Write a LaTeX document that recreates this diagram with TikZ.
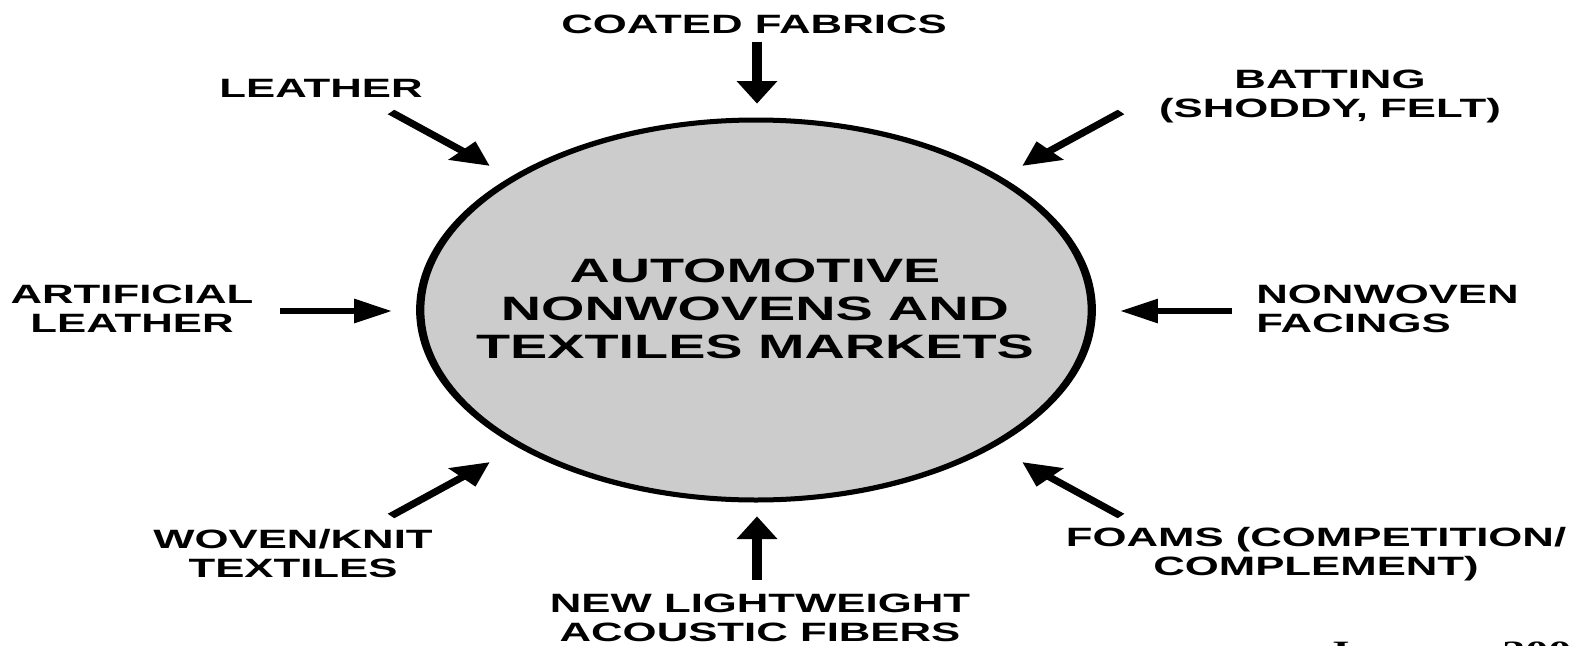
\documentclass[tikz,border=0pt]{standalone}
\usepackage{fontspec}
\setmainfont{Liberation Sans}
\newfontfamily\datefont{Liberation Serif}
\usetikzlibrary{arrows.meta,shapes.geometric}
\definecolor{ellgray}{HTML}{CCCCCC}
\tikzset{
  lbl/.style={font=\bfseries\fontsize{26.5}{29}\selectfont, align=center, inner sep=0pt},
  centerlbl/.style={font=\bfseries\fontsize{33.8}{38}\selectfont, align=center, inner sep=0pt},
  feed/.style={line width=6pt, -{Triangle[length=23pt,width=23pt]}},
}
\begin{document}
\begin{tikzpicture}
\useasboundingbox (0pt,0pt) rectangle (1571pt,-645pt);
\begin{scope}[transform canvas={xscale=1.65}, x={(0.606061pt,0pt)}, y={(0pt,-1pt)}]
  \node[ellipse, draw, line width=5pt, fill=ellgray, minimum width=407pt, minimum height=380pt, inner sep=0pt] (market) at (756,310) {};
  \node[centerlbl] (mtext) at (755,309) {AUTOMOTIVE\\NONWOVENS AND\\TEXTILES MARKETS};

  \node[lbl] (coated) at (754,24) {COATED FABRICS};
  \node[lbl] (leather) at (321,88) {LEATHER};
  \node[lbl] (batting) at (1330,96) {BATTING\\(SHODDY, FELT)};
  \node[lbl] (artif) at (132,309) {ARTIFICIAL\\LEATHER};
  \node[lbl, align=left, anchor=west] (nonwoven) at (1256,309) {NONWOVEN\\FACINGS};
  \node[lbl] (woven) at (293,554) {WOVEN/KNIT\\TEXTILES};
  \node[lbl] (newfib) at (760,618) {NEW LIGHTWEIGHT\\ACOUSTIC FIBERS};
  \node[lbl] (foams) at (1316,554) {FOAMS (COMPETITION/\\COMPLEMENT)};
  \node[font=\datefont\bfseries\fontsize{28}{30}\selectfont, anchor=base west, inner sep=0pt] (date) at (1326,660) {January 2005};

  \coordinate (s1) at (757,42);   \coordinate (t1) at (757,104);
  \coordinate (s2) at (391,112);  \coordinate (t2) at (490,166);
  \coordinate (s3) at (1121,112); \coordinate (t3) at (1022,166);
  \coordinate (s4) at (280,311);  \coordinate (t4) at (392,311);
  \coordinate (s5) at (1232,311); \coordinate (t5) at (1120,311);
  \coordinate (s6) at (391,516);  \coordinate (t6) at (490,462);
  \coordinate (s7) at (1121,516); \coordinate (t7) at (1022,462);
  \coordinate (s8) at (757,580);  \coordinate (t8) at (757,516);

  \foreach \i in {1,...,8} { \draw[feed] (s\i) -- (t\i); }
\end{scope}
\end{tikzpicture}
\end{document}
